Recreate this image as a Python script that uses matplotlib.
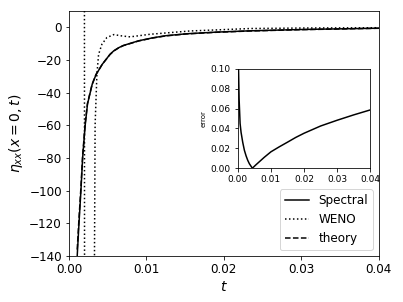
import matplotlib
matplotlib.use("Agg")
import matplotlib.pyplot as plt

# spectral solution
t_spec = [0.00107, 0.0013, 0.00155, 0.00177, 0.0021, 0.0024, 0.003, 0.0035, 0.0043,
          0.0053, 0.0058, 0.0064, 0.007, 0.0081, 0.009, 0.0108, 0.0125, 0.0152, 0.019,
          0.0234, 0.03, 0.04]
v_spec = [-140, -120, -100, -80, -60, -47, -35, -29, -22.7,
          -16.6, -14.4, -12.6, -11.2, -9.6, -8.3, -6.5, -5.2, -4.0, -3.0,
          -2.2, -1.4, -0.6]

# theory (nearly on top of spectral)
v_theory = [-136, -117, -98, -78.5, -59, -46.5, -34.8, -28.9, -22.7,
            -16.7, -14.5, -12.7, -11.3, -9.7, -8.4, -6.6, -5.3, -4.1, -3.1,
            -2.3, -1.5, -0.65]

# WENO solution (blows up near t=0.002)
t_weno = [0.0020, 0.00203, 0.00325, 0.0033, 0.00338, 0.00361, 0.00383, 0.00426, 0.0049,
          0.0058, 0.0068, 0.0079, 0.0105, 0.0156, 0.0234, 0.03, 0.04]
v_weno = [50, -300, -300, -140, -60, -29, -16.6, -10.4, -6.3,
          -4.5, -5.3, -5.9, -4.3, -2.3, -0.8, -0.5, -0.3]

# relative error (inset)
t_err = [0.0002, 0.0004, 0.0007, 0.001, 0.0015, 0.002, 0.0025, 0.003, 0.0035, 0.0044,
         0.0055, 0.0065, 0.008, 0.01, 0.0125, 0.015, 0.0175, 0.02, 0.025, 0.03, 0.035, 0.04]
err = [0.105, 0.07, 0.045, 0.036, 0.026, 0.018, 0.0125, 0.008, 0.0045, 0.0,
       0.0035, 0.0065, 0.011, 0.0165, 0.0215, 0.0262, 0.031, 0.0352, 0.0425, 0.0483, 0.0537, 0.0587]

fig = plt.figure(figsize=(403 / 72, 302 / 72), dpi=72)
ax = fig.add_axes([0.171, 0.152, 0.769, 0.812])
ax.plot(t_spec, v_spec, 'k-', label='Spectral')
ax.plot(t_weno, v_weno, 'k:', label='WENO')
ax.plot(t_spec, v_theory, 'k--', label='theory')
ax.set_xlim(0, 0.04)
ax.set_ylim(-140, 10)
ax.set_xticks([0, 0.01, 0.02, 0.03, 0.04])
ax.set_xticklabels(['0.00', '0.01', '0.02', '0.03', '0.04'])
ax.tick_params(labelsize=12)
ax.set_xlabel('$t$', fontsize=14)
ax.set_ylabel('$\\eta_{xx}(x=0,t)$', fontsize=14)
ax.legend(loc='lower right', fontsize=12)

ins = fig.add_axes([0.590, 0.443, 0.329, 0.329])
ins.plot(t_err, err, 'k-')
ins.set_xlim(0, 0.04)
ins.set_ylim(0, 0.1)
ins.set_xticks([0, 0.01, 0.02, 0.03, 0.04])
ins.set_xticklabels(['0.00', '0.01', '0.02', '0.03', '0.04'])
ins.set_yticks([0, 0.02, 0.04, 0.06, 0.08, 0.10])
ins.set_yticklabels(['0.00', '0.02', '0.04', '0.06', '0.08', '0.10'])
ins.tick_params(labelsize=9)
ins.set_ylabel('error', fontsize=7)

fig.savefig('out.png', dpi=72)
